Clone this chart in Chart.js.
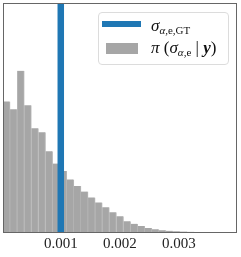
<!DOCTYPE html>
<html>
<head>
<meta charset="utf-8">
<script src="https://cdn.jsdelivr.net/npm/chart.js@4/dist/chart.umd.min.js"></script>
<style>
html,body{margin:0;padding:0;background:#fff;}
#wrap{position:relative;width:241px;height:257px;}
#legend{position:absolute;left:98px;top:12px;width:131px;height:53px;box-sizing:border-box;
border:1px solid #dcdcdc;border-radius:4px;background:rgba(255,255,255,0.85);
font-family:"Liberation Serif",serif;color:#111;}
.handle{position:absolute;}
.lbl{position:absolute;left:52px;white-space:nowrap;font-size:17px;}
.lbl sub{font-size:11px;vertical-align:-3px;}
</style>
</head>
<body>
<div id="wrap">
<canvas id="c" width="241" height="257"></canvas>
<div id="legend"></div>
</div>
<script>
// histogram bins (centres) and bar heights
const binCenters=[0.000082,0.000202,0.000322,0.000442,0.000562,0.000682,0.000802,0.000922,
0.001042,0.001162,0.001282,0.001402,0.001522,0.001642,0.001762,0.001882,0.002002,0.002122,
0.002242,0.002362,0.002482,0.002602,0.002722,0.002842,0.002962,0.003082,0.003202,0.003322];
const heights=[132.3,124.3,163.3,128.3,105,101,81.7,69.3,61.7,53.3,46.7,41,35,30,25,20,16,11,
8.3,6,4,2.7,1.7,1.3,0.7,0.4,0.2,0.1];
const gtValue=0.001;
const xTicks=[0.001,0.002,0.003];
const xMin=0.000022,xMax=0.003983,yMax=232;

const BLUE='#1f77b4';
const GRAY='#a6a6a6';

const frame={
id:'frame',
afterDatasetsDraw(chart){
const a=chart.chartArea,ctx=chart.ctx;
ctx.save();
ctx.strokeStyle='#666';
ctx.lineWidth=1;
ctx.strokeRect(Math.round(a.left)+0.5,Math.round(a.top)+0.5,Math.round(a.right-a.left)-1,Math.round(a.bottom-a.top));
ctx.restore();
}
};

new Chart(document.getElementById('c'),{
type:'bar',
data:{
datasets:[
{
type:'line',
label:'gt',
data:[{x:gtValue,y:0},{x:gtValue,y:yMax}],
borderColor:BLUE,
borderWidth:6.5,
pointRadius:0,
order:0
},
{
label:'posterior',
data:binCenters.map((x,i)=>({x:x,y:heights[i]})),
backgroundColor:GRAY,
borderColor:'#b8b8b8',
borderWidth:{left:0,right:1,top:0,bottom:0},
barPercentage:1,
categoryPercentage:1,
order:1
}
]
},
options:{
responsive:false,
animation:false,
devicePixelRatio:1,
layout:{padding:{left:3,top:3,right:4,bottom:1}},
plugins:{legend:{display:false},tooltip:{enabled:false}},
scales:{
x:{
type:'linear',
offset:false,
min:xMin,
max:xMax,
grid:{display:false,drawTicks:false,tickLength:0},
border:{display:false},
afterBuildTicks(s){s.ticks=xTicks.map(v=>({value:v}));},
ticks:{
autoSkip:false,
maxRotation:0,
padding:3,
color:'#222',
font:{family:'"Liberation Serif", serif',size:15},
callback:v=>v.toFixed(3)
}
},
y:{display:false,min:0,max:yMax}
}
},
plugins:[frame]
});

// legend with math-style labels
const legend=document.getElementById('legend');
legend.innerHTML=
'<div class="handle" style="left:3px;top:8px;width:39px;height:6px;background:'+BLUE+'"></div>'+
'<div class="lbl" style="top:3px"><i>σ</i><sub><i>α</i>,e,GT</sub></div>'+
'<div class="handle" style="left:7px;top:30px;width:32px;height:11px;background:'+GRAY+'"></div>'+
'<div class="lbl" style="top:25px"><i>π</i> (<i>σ</i><sub><i>α</i>,e</sub> | <b><i>y</i></b>)</div>';
</script>
</body>
</html>
